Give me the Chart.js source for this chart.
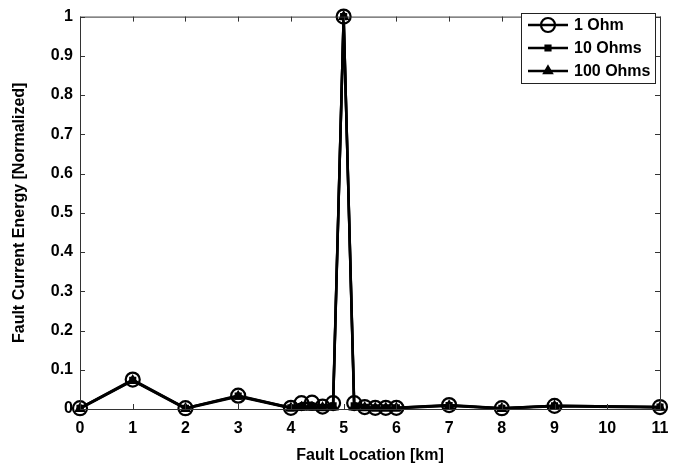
<!DOCTYPE html>
<html>
<head>
<meta charset="utf-8">
<script src="https://cdn.jsdelivr.net/npm/chart.js@4.4.1/dist/chart.umd.min.js"></script>
<style>
  html, body { margin: 0; padding: 0; background: #fff; }
  #wrap { width: 693px; height: 470px; }
</style>
</head>
<body>
<div id="wrap"><canvas id="faultChart" width="693" height="470"></canvas></div>
<script>
// fault positions along the feeder (km)
const locations = [0, 1, 2, 3, 4, 4.2, 4.4, 4.6, 4.8, 5, 5.2, 5.4, 5.6, 5.8, 6, 7, 8, 9, 11];

// normalized fault current energy per fault resistance
const ohm1   = [0.002, 0.075, 0.002, 0.034, 0.003, 0.015, 0.016, 0.006, 0.015, 1, 0.015, 0.005, 0.003, 0.003, 0.003, 0.010, 0.002, 0.008, 0.005];
const ohm10  = [0.002, 0.073, 0.002, 0.033, 0.003, 0.006, 0.006, 0.004, 0.008, 1, 0.008, 0.004, 0.003, 0.003, 0.003, 0.009, 0.002, 0.008, 0.005];
const ohm100 = [0.001, 0.072, 0.001, 0.032, 0.002, 0.004, 0.004, 0.003, 0.005, 1, 0.005, 0.003, 0.002, 0.002, 0.002, 0.008, 0.001, 0.007, 0.004];

const seriesNames = ["1 Ohm", "10 Ohms", "100 Ohms"];
const xTicks = [0, 1, 2, 3, 4, 5, 6, 7, 8, 9, 10, 11];

const FONT = "'Liberation Sans', Arial, sans-serif";
const markerFill = ["rgba(0,0,0,0)", "#000", "#000"];

function toPoints(vals) {
  return locations.map((x, i) => ({ x: x, y: vals[i] }));
}

// box around plot with inward ticks on all four sides, plus boxed legend
const framePlugin = {
  id: "frame",
  afterDatasetsDraw(chart) {
    const { ctx, chartArea: a, scales } = chart;
    const len = 5;
    ctx.save();
    ctx.strokeStyle = "#333";
    ctx.lineWidth = 1;
    ctx.strokeRect(a.left + 0.5, a.top + 0.5, a.right - a.left, a.bottom - a.top);
    ctx.beginPath();
    xTicks.forEach(v => {
      const px = Math.round(scales.x.getPixelForValue(v)) + 0.5;
      ctx.moveTo(px, a.bottom); ctx.lineTo(px, a.bottom - len);
      ctx.moveTo(px, a.top); ctx.lineTo(px, a.top + len);
    });
    scales.y.ticks.forEach(t => {
      const py = Math.round(scales.y.getPixelForValue(t.value)) + 0.5;
      ctx.moveTo(a.left, py); ctx.lineTo(a.left + len, py);
      ctx.moveTo(a.right, py); ctx.lineTo(a.right - len, py);
    });
    ctx.stroke();

    // legend
    const bx = 521, by = 13, bw = 134, bh = 70;
    ctx.fillStyle = "#fff";
    ctx.fillRect(bx, by, bw, bh);
    ctx.strokeStyle = "#222";
    ctx.strokeRect(bx + 0.5, by + 0.5, bw, bh);
    chart.data.datasets.forEach((ds, i) => {
      const y = by + 12 + i * 23;
      ctx.strokeStyle = "#000";
      ctx.lineWidth = 2.5;
      ctx.beginPath();
      ctx.moveTo(bx + 7, y); ctx.lineTo(bx + 47, y);
      ctx.stroke();
      ctx.save();
      ctx.fillStyle = markerFill[i];
      ctx.strokeStyle = "#000";
      ctx.lineWidth = ds.pointBorderWidth;
      Chart.helpers.drawPoint(ctx, {
        pointStyle: ds.pointStyle,
        radius: ds.pointRadius,
        borderWidth: ds.pointBorderWidth
      }, bx + 27, y);
      ctx.restore();
      ctx.fillStyle = "#000";
      ctx.font = "bold 16px " + FONT;
      ctx.textBaseline = "middle";
      ctx.textAlign = "left";
      ctx.fillText(ds.label, bx + 53, y + 1);
    });
    ctx.restore();
  }
};

function dataset(i, vals, style, radius) {
  return {
    label: seriesNames[i],
    data: toPoints(vals),
    borderColor: "#000",
    borderWidth: 2.5,
    pointStyle: style,
    pointRadius: radius,
    pointHoverRadius: radius,
    pointBorderWidth: 2.2,
    pointBorderColor: "#000",
    pointBackgroundColor: markerFill[i],
    tension: 0,
    clip: false
  };
}

const ctx = document.getElementById("faultChart").getContext("2d");
new Chart(ctx, {
  type: "line",
  data: {
    datasets: [
      dataset(0, ohm1, "circle", 7),
      dataset(1, ohm10, "rect", 3.5),
      dataset(2, ohm100, "triangle", 4.5)
    ]
  },
  options: {
    responsive: false,
    animation: false,
    layout: { padding: { top: 8, right: 33, left: 0, bottom: 0 } },
    plugins: {
      legend: { display: false },
      tooltip: { enabled: false }
    },
    scales: {
      x: {
        type: "linear",
        min: 0,
        max: 11,
        afterBuildTicks: s => { s.ticks = xTicks.map(v => ({ value: v })); },
        afterFit: s => { s.height = 61; },
        grid: { display: false, drawTicks: false },
        border: { display: false },
        ticks: {
          padding: 10,
          color: "#000",
          font: { family: FONT, size: 16, weight: "bold" }
        },
        title: {
          display: true,
          text: "Fault Location [km]",
          color: "#000",
          font: { family: FONT, size: 16, weight: "bold" },
          padding: { top: 0, bottom: 5 }
        }
      },
      y: {
        min: 0,
        max: 1,
        afterFit: s => { s.width = 80; },
        grid: { display: false, drawTicks: false },
        border: { display: false },
        ticks: {
          stepSize: 0.1,
          padding: 7,
          color: "#000",
          font: { family: FONT, size: 16, weight: "bold" },
          callback: v => String(Math.round(v * 10) / 10)
        },
        title: {
          display: true,
          text: "Fault Current Energy [Normalized]",
          color: "#000",
          font: { family: FONT, size: 16, weight: "bold" },
          padding: { top: 10, bottom: 0 }
        }
      }
    }
  },
  plugins: [framePlugin]
});
</script>
</body>
</html>
